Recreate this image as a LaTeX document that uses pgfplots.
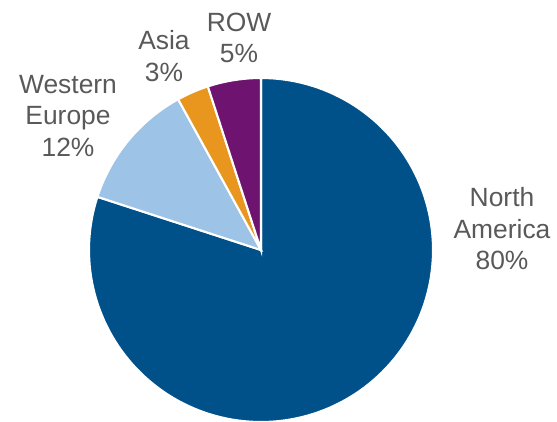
\documentclass[border=0pt]{standalone}
\usepackage{pgfplots}
\pgfplotsset{compat=1.18}
\usepackage{fontspec}
\setmainfont{Liberation Sans}
\definecolor{cNA}{HTML}{00508A}
\definecolor{cWE}{HTML}{9DC3E6}
\definecolor{cAS}{HTML}{E8961E}
\definecolor{cRW}{HTML}{6E1470}
\definecolor{txt}{HTML}{595959}
% shares (percent)
\def\pNA{80}
\def\pWE{12}
\def\pAS{3}
\def\pRW{5}
\begin{document}
\begin{tikzpicture}
\pgfmathsetmacro\aA{90}
\pgfmathsetmacro\aB{\aA-3.6*\pNA}
\pgfmathsetmacro\aC{\aB-3.6*\pWE}
\pgfmathsetmacro\aD{\aC-3.6*\pAS}
\pgfmathsetmacro\aE{\aD-3.6*\pRW}
\begin{axis}[
  at={(0,0)}, anchor=south west,
  scale only axis, width=401.04pt, height=303.12pt,
  xmin=0, xmax=557, ymin=0, ymax=421,
  hide axis, clip=true,
]
\def\cx{261}\def\cy{171}\def\R{172}
\addplot[fill=cNA, draw=white, line width=1.5pt, domain=\aA:\aB, samples=150, variable=\t]
  ({\cx+\R*cos(\t)},{\cy+\R*sin(\t)}) -- (axis cs:\cx,\cy) -- cycle;
\addplot[fill=cWE, draw=white, line width=1.5pt, domain=\aB:\aC, samples=40, variable=\t]
  ({\cx+\R*cos(\t)},{\cy+\R*sin(\t)}) -- (axis cs:\cx,\cy) -- cycle;
\addplot[fill=cAS, draw=white, line width=1.5pt, domain=\aC:\aD, samples=20, variable=\t]
  ({\cx+\R*cos(\t)},{\cy+\R*sin(\t)}) -- (axis cs:\cx,\cy) -- cycle;
\addplot[fill=cRW, draw=white, line width=1.5pt, domain=\aD:\aE, samples=20, variable=\t]
  ({\cx+\R*cos(\t)},{\cy+\R*sin(\t)}) -- (axis cs:\cx,\cy) -- cycle;
\end{axis}
\begin{scope}[every node/.style={text=txt, align=center, font=\fontsize{19}{22.7}\selectfont, inner sep=0pt}]
\node at (502*0.72pt, 192*0.72pt) {North\\America\\80\%};
\node at (68*0.72pt, 305*0.72pt) {Western\\Europe\\12\%};
\node at (164*0.72pt, 365*0.72pt) {Asia\\3\%};
\node at (239*0.72pt, 383*0.72pt) {ROW\\5\%};
\end{scope}
\pgfresetboundingbox
\path[use as bounding box] (0,0) rectangle (401.04pt,303.12pt);
\end{tikzpicture}
\end{document}
